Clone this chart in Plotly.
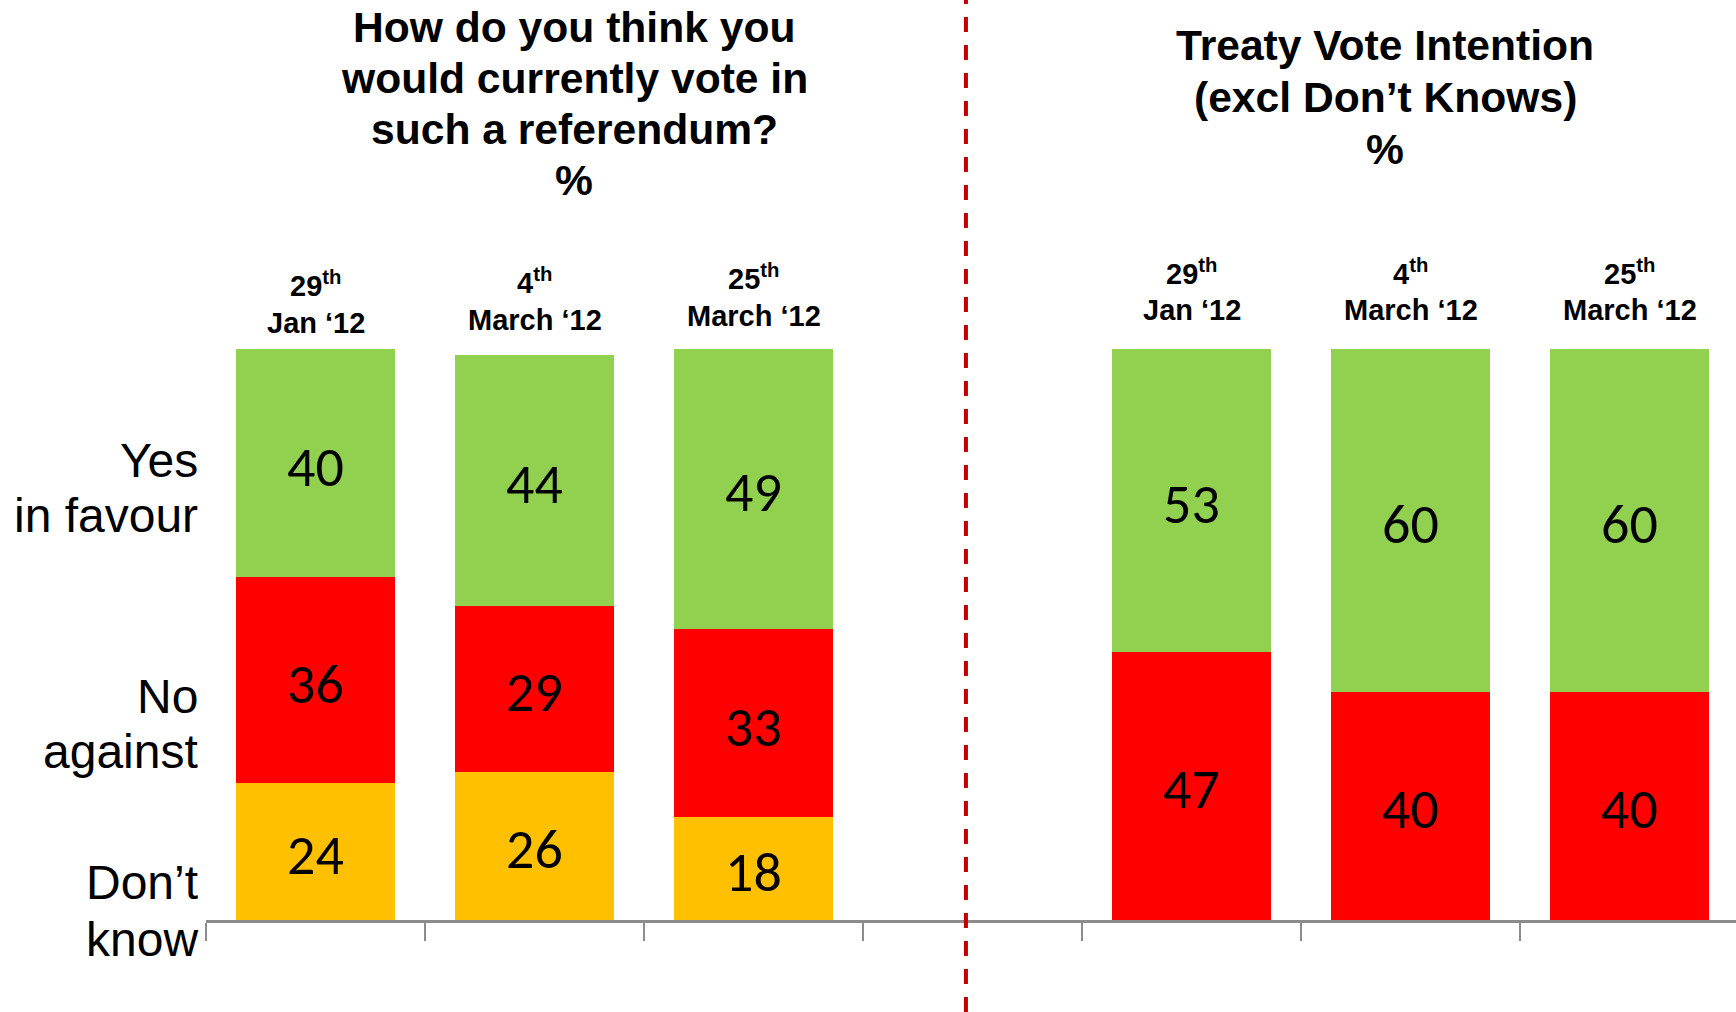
import plotly.graph_objects as go

# ---------------- data ----------------
left_days = ["29", "4", "25"]
left_months = ["Jan \u201812", "March \u201812", "March \u201812"]
left_yes = [40, 44, 49]
left_no = [36, 29, 33]
left_dk = [24, 26, 18]

right_days = ["29", "4", "25"]
right_months = ["Jan \u201812", "March \u201812", "March \u201812"]
right_yes = [53, 60, 60]
right_no = [47, 40, 40]

row_labels = [["Yes", "in favour"], ["No", "against"], ["Don\u2019t", "know"]]
left_title = ["How do you think you", "would currently vote in", "such a referendum?", "%"]
right_title = ["Treaty Vote Intention", "(excl Don\u2019t Knows)", "%"]

# ---------------- styles / layout helpers ----------------
GREEN, RED, YELLOW = "#92D050", "#FF0000", "#FFC000"
W, H = 1736, 1012
PL, PT, PB = 206, 349, 920          # plot area (page pixels)
SLOT = 219.0                        # width of one category slot in px
ML, MR, MT, MB = PL, 0, PT, H - PB
PW, PH = W - PL, PB - PT


def py(px):
    return (PB - px) / PH


def pxx(px):
    return (px - PL) / PW


left_x = list(range(len(left_days)))
gap = len(left_days)
right_x = [gap + 1 + i for i in range(len(right_days))]
n_slots = len(left_x) + len(right_x) + 1

fig = go.Figure()
ann = []
val_font = dict(family="Carlito, Lato, sans-serif", size=56, color="black")


def add_stack(x, series):
    bottoms = [0] * len(x)
    for y, color, name in series:
        fig.add_trace(go.Bar(x=x, y=y, name=name,
                             marker=dict(color=color, line=dict(width=0)),
                             showlegend=False, hoverinfo="skip"))
        for xi, b, v in zip(x, bottoms, y):
            ann.append(dict(text=str(v), x=xi, y=b + v / 2, xref="x", yref="y",
                            xanchor="center", yanchor="middle", yshift=-3.5,
                            showarrow=False, font=val_font))
        bottoms = [b + v for b, v in zip(bottoms, y)]


add_stack(left_x, [(left_dk, YELLOW, "Don't know"), (left_no, RED, "No"),
                   (left_yes, GREEN, "Yes")])
add_stack(right_x, [(right_no, RED, "No"), (right_yes, GREEN, "Yes")])

tfont = dict(family="Liberation Sans, Arial, sans-serif", size=42.6, color="black")
for i, line in enumerate(left_title):
    ann.append(dict(text="<b>%s</b>" % line, x=pxx(574), y=py(27 + 51 * i),
                    xref="paper", yref="paper", xanchor="center", yanchor="middle",
                    showarrow=False, font=tfont))
for i, line in enumerate(right_title):
    ann.append(dict(text="<b>%s</b>" % line, x=pxx(1385), y=py(45 + 52 * i),
                    xref="paper", yref="paper", xanchor="center", yanchor="middle",
                    showarrow=False, font=tfont))

hfont = dict(family="Liberation Sans, Arial, sans-serif", size=29, color="black")
left_hy = [(287, 323), (284, 320), (280, 315.5)]
right_hy = [(275, 310), (275, 310), (275, 310)]
for xs, days, months, hy in [(left_x, left_days, left_months, left_hy),
                             (right_x, right_days, right_months, right_hy)]:
    for x, d, m, (y1, y2) in zip(xs, days, months, hy):
        ann.append(dict(text="<b>%s<sup>th</sup></b>" % d, x=x, y=py(y1 - 3),
                        xref="x", yref="paper", xanchor="center", yanchor="middle",
                        showarrow=False, font=hfont))
        ann.append(dict(text="<b>%s</b>" % m, x=x, y=py(y2),
                        xref="x", yref="paper", xanchor="center", yanchor="middle",
                        showarrow=False, font=hfont))

lfont = dict(family="Liberation Sans, Arial, sans-serif", size=48, color="black")
baselines = [(477, 532), (713, 768), (899, 956)]
for (a, b), (b1, b2) in zip(row_labels, baselines):
    for txt, bl in [(a, b1), (b, b2)]:
        ann.append(dict(text=txt, x=pxx(200), y=py(bl - 17), xref="paper", yref="paper",
                        xanchor="right", yanchor="middle", showarrow=False, font=lfont))

fig.update_layout(
    width=W, height=H, margin=dict(l=ML, r=MR, t=MT, b=MB, pad=0),
    barmode="stack", bargap=0.27,
    plot_bgcolor="white", paper_bgcolor="white",
    annotations=ann,
    xaxis=dict(range=[-0.5, -0.5 + PW / SLOT],
               tickvals=[i - 0.5 for i in range(n_slots)],
               showticklabels=False, ticks="outside", ticklen=18, tickwidth=2,
               tickcolor="#8c8c8c", showline=True, linecolor="#8c8c8c", linewidth=3,
               showgrid=False, zeroline=False, fixedrange=True),
    yaxis=dict(range=[0, 100], visible=False, fixedrange=True),
    shapes=[dict(type="line", xref="x", yref="paper", x0=gap - 0.03, x1=gap - 0.03,
                 y0=py(H), y1=py(0), line=dict(color="#C00000", width=4, dash="15px,13px"))],
)

fig.write_html("out.html", config={"displayModeBar": False},
               post_script="document.body.style.margin='0px';")
